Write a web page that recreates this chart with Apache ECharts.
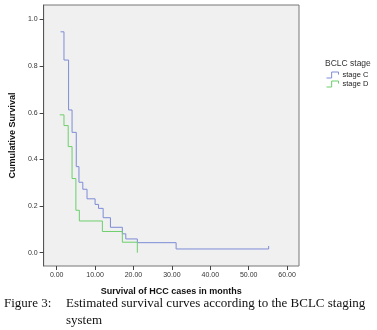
<!DOCTYPE html>
<html><head><meta charset="utf-8">
<script src="https://cdn.jsdelivr.net/npm/echarts@6/dist/echarts.min.js"></script>
<style>html,body{margin:0;padding:0;background:#fff}#c{width:377px;height:330px}</style>
</head><body><div id="c"></div>
<script>
// Stage C (blue) step points: months, cumulative survival (last point = censor mark)
const stageC_t = [1.0, 1.9, 3.1, 4.0, 5.1, 5.8, 6.8, 7.9, 10.0, 10.9, 12.1, 14.0, 17.1, 18.0, 21.0, 31.1, 55.2, 55.2];
const stageC_s = [0.947, 0.826, 0.612, 0.516, 0.369, 0.302, 0.272, 0.231, 0.207, 0.19, 0.15, 0.109, 0.081, 0.059, 0.043, 0.016, 0.016, 0.029];
// Stage D (green)
const stageD_t = [0.8, 1.9, 3.0, 4.0, 5.0, 5.9, 11.9, 17.1, 21.0];
const stageD_s = [0.591, 0.545, 0.455, 0.318, 0.182, 0.136, 0.091, 0.045, 0.0];
const xTicks = [0, 10, 20, 30, 40, 50, 60];
const yTicks = [0, 0.2, 0.4, 0.6, 0.8, 1.0];
const seriesNames = ['stage C', 'stage D'];
const seriesColors = ['#7d8cd6', '#6ccf6c'];
const legendTitle = 'BCLC stage';
const xTitle = 'Survival of HCC cases in months';
const yTitle = 'Cumulative Survival';
const captionLabel = 'Figure 3:';
const captionLine1 = 'Estimated survival curves according to the BCLC staging';
const captionLine2 = 'system';

const zip = (a, b) => a.map((v, i) => [v, b[i]]);
const chart = echarts.init(document.getElementById('c'), null, {renderer: 'canvas'});
const stepIcon = 'path://M0,8 L6,8 L6,1 L14,1 L14,4';
chart.setOption({
  animation: false,
  backgroundColor: '#ffffff',
  grid: {left: 33, top: 5, right: 78, bottom: 64, show: true, backgroundColor: '#f0f0f0', borderColor: '#777', borderWidth: 1},
  xAxis: {
    type: 'value', min: -3.4, max: 63.1,
    name: xTitle, nameLocation: 'middle', nameGap: 21,
    nameTextStyle: {fontFamily: 'Liberation Sans', fontWeight: 'bold', fontSize: 9, color: '#111'},
    axisLine: {show: false, onZero: false},
    axisTick: {show: true, length: 4, customValues: xTicks, lineStyle: {color: '#444'}},
    axisLabel: {customValues: xTicks, formatter: v => v.toFixed(2), fontSize: 7, color: '#333', fontFamily: 'Liberation Sans', margin: 6},
    splitLine: {show: false}
  },
  yAxis: {
    type: 'value', min: -0.057, max: 1.062,
    name: yTitle, nameLocation: 'middle', nameGap: 21, nameRotate: 90,
    nameTextStyle: {fontFamily: 'Liberation Sans', fontWeight: 'bold', fontSize: 9, color: '#111'},
    axisLine: {show: true, onZero: false, lineStyle: {color: '#555'}},
    axisTick: {show: true, length: 4, customValues: yTicks, lineStyle: {color: '#444'}},
    axisLabel: {customValues: yTicks, formatter: v => v.toFixed(1), fontSize: 7, color: '#333', fontFamily: 'Liberation Sans', margin: 6},
    splitLine: {show: false}
  },
  legend: {
    orient: 'vertical', left: 326, top: 71, padding: 0, itemGap: 1,
    itemWidth: 16, itemHeight: 6,
    data: seriesNames.map((n, i) => ({name: n, icon: stepIcon,
      itemStyle: {color: 'rgba(0,0,0,0)', borderColor: seriesColors[i], borderWidth: 1}})),
    textStyle: {fontSize: 7.5, color: '#222', fontFamily: 'Liberation Sans', padding: [0, 0, 0, -3]}
  },
  graphic: [
    {type: 'text', left: 325, top: 59, style: {text: legendTitle, font: '8.5px "Liberation Sans"', fill: '#333'}},
    {type: 'text', left: 4, top: 297, style: {text: captionLabel, font: '13px "Liberation Serif"', fill: '#111'}},
    {type: 'text', left: 66, top: 297, style: {text: captionLine1, font: '13px "Liberation Serif"', fill: '#111'}},
    {type: 'text', left: 66, top: 314, style: {text: captionLine2, font: '13px "Liberation Serif"', fill: '#111'}}
  ],
  series: [
    {name: seriesNames[0], type: 'line', step: 'end', data: zip(stageC_t, stageC_s), showSymbol: false, symbol: 'none',
     lineStyle: {color: seriesColors[0], width: 1}, itemStyle: {color: seriesColors[0]}},
    {name: seriesNames[1], type: 'line', step: 'end', data: zip(stageD_t, stageD_s), showSymbol: false, symbol: 'none',
     lineStyle: {color: seriesColors[1], width: 1}, itemStyle: {color: seriesColors[1]}}
  ]
});
</script></body></html>
